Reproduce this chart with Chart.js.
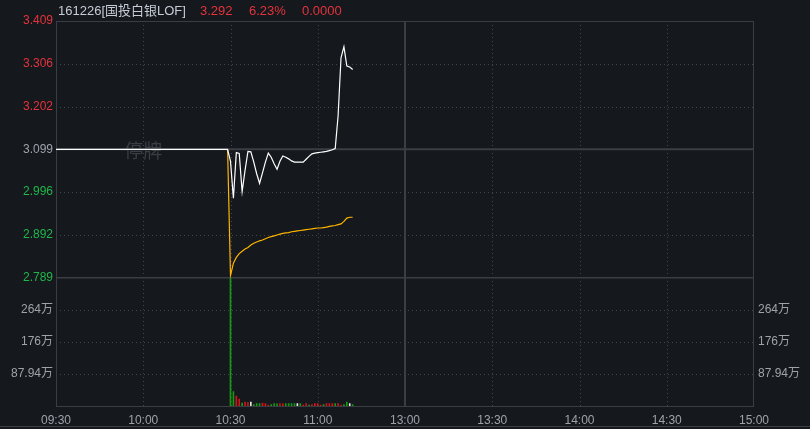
<!DOCTYPE html>
<html>
<head>
<meta charset="utf-8">
<script src="https://cdn.jsdelivr.net/npm/chart.js@4.4.1/dist/chart.umd.min.js"></script>
<style>
  html, body { margin: 0; padding: 0; background: #15181d; }
  canvas { display: block; }
</style>
</head>
<body>
<canvas id="chart" width="810" height="429"></canvas>
<script>
// axis ticks
const timeLabels = ["09:30", "10:00", "10:30", "11:00", "13:00", "13:30", "14:00", "14:30", "15:00"];
const priceTicks = [3.409, 3.306, 3.202, 3.099, 2.996, 2.892, 2.789];
const prevClose = 3.099;
const volTicks = [87.94, 175.88, 263.82];
const volTickLabels = ["87.94万", "176万", "264万"];
const volMax = 351.76;

// minute data (suspended until 10:30)
const times = [
  "09:30", "10:29",
  "10:30", "10:31", "10:32", "10:33", "10:34", "10:35", "10:36", "10:37", "10:38", "10:39",
  "10:40", "10:41", "10:42", "10:43", "10:44", "10:45", "10:46", "10:47", "10:48", "10:49",
  "10:50", "10:51", "10:52", "10:53", "10:54", "10:55", "10:56", "10:57", "10:58", "10:59",
  "11:00", "11:01", "11:02", "11:03", "11:04", "11:05", "11:06", "11:07", "11:08", "11:09",
  "11:10", "11:11", "11:12"
];
const prices = [
  3.099, 3.099,
  3.070, 2.981, 3.091, 3.089, 2.997, 3.048, 3.094, 3.093, 3.068, 3.040,
  3.017, 3.042, 3.068, 3.090, 3.080, 3.064, 3.051, 3.070, 3.083, 3.080,
  3.076, 3.071, 3.068, 3.068, 3.068, 3.068, 3.075, 3.082, 3.088, 3.090,
  3.091, 3.092, 3.093, 3.094, 3.096, 3.098, 3.101, 3.180, 3.320, 3.347,
  3.300, 3.298, 3.292
];
const avgPrices = [
  null, 3.099,
  2.794, 2.824, 2.838, 2.847, 2.853, 2.858, 2.862, 2.868, 2.872, 2.875,
  2.878, 2.880, 2.883, 2.886, 2.888, 2.890, 2.892, 2.894, 2.896, 2.897,
  2.898, 2.900, 2.901, 2.902, 2.903, 2.904, 2.905, 2.906, 2.907, 2.908,
  2.909, 2.909, 2.910, 2.911, 2.913, 2.914, 2.915, 2.917, 2.919, 2.925,
  2.933, 2.935, 2.935
];
// volume in 万, from 10:30
const volTimes = times.slice(2);
const volumes = [
  351.76, 39.4, 27.5, 19.2, 8.2, 11.0, 9.2, 11.0, 3.7, 6.4,
  6.4, 8.2, 6.4, 2.7, 3.7, 6.4, 6.2, 6.4, 6.1, 6.4,
  6.4, 6.3, 6.4, 6.4, 6.4, 2.7, 6.4, 2.7, 3.7, 6.4,
  6.4, 2.7, 3.7, 6.4, 6.4, 6.3, 6.4, 6.4, 2.7, 3.7,
  11.0, 6.4, 3.7
];
const volDirs = [
  "d", "d", "u", "u", "d", "u", "u", "f", "d", "d",
  "d", "u", "u", "u", "d", "d", "d", "u", "u", "d",
  "d", "d", "d", "f", "d", "u", "u", "d", "u", "u",
  "u", "u", "d", "u", "u", "u", "d", "u", "u", "d",
  "d", "f", "d"
];

const RED = "#e5333b";
const GREEN = "#1fb74a";
const GRAY = "#9ea3aa";
const dirColors = { u: "#d0161b", d: "#169a16", f: "#e6e6e6" };
const FONT = "'Liberation Sans', 'Noto Sans CJK SC', sans-serif";

function toMinute(t) {
  const [h, m] = t.split(":").map(Number);
  const v = h * 60 + m;
  return v <= 690 ? v - 570 : v - 780 + 120;
}
const tickMinutes = timeLabels.map(toMinute);

const panes = {
  id: "panes",
  beforeDraw(chart) {
    const { ctx } = chart;
    ctx.save();
    ctx.fillStyle = "#15181d";
    ctx.fillRect(0, 0, chart.width, chart.height);
    ctx.restore();
  },
  beforeDatasetsDraw(chart) {
    const { ctx, chartArea: a, scales } = chart;
    const { x, y, yv } = scales;
    ctx.save();
    ctx.lineWidth = 1;
    ctx.strokeStyle = "#40444b";
    ctx.setLineDash([1, 3]);
    tickMinutes.forEach((m, i) => {
      if (i === 0 || i === tickMinutes.length - 1 || m === 120) return;
      const px = Math.round(x.getPixelForValue(m)) + 0.5;
      ctx.beginPath(); ctx.moveTo(px, a.top); ctx.lineTo(px, a.bottom); ctx.stroke();
    });
    const hDots = priceTicks.filter((v, i) => i > 0 && i < priceTicks.length - 1 && v !== prevClose)
      .map(v => y.getPixelForValue(v))
      .concat(volTicks.map(v => yv.getPixelForValue(v)));
    hDots.forEach(py => {
      py = Math.round(py) + 0.5;
      ctx.beginPath(); ctx.moveTo(a.left, py); ctx.lineTo(a.right, py); ctx.stroke();
    });
    ctx.setLineDash([]);
    ctx.strokeStyle = "#3b3e44";
    ctx.lineWidth = 2;
    const noon = x.getPixelForValue(120);
    ctx.beginPath(); ctx.moveTo(noon, a.top); ctx.lineTo(noon, a.bottom); ctx.stroke();
    const pc = y.getPixelForValue(prevClose);
    ctx.beginPath(); ctx.moveTo(a.left, pc); ctx.lineTo(a.right, pc); ctx.stroke();
    ctx.lineWidth = 1.5;
    const sep = y.getPixelForValue(priceTicks[priceTicks.length - 1]);
    ctx.beginPath(); ctx.moveTo(a.left, sep); ctx.lineTo(a.right, sep); ctx.stroke();
    ctx.lineWidth = 1;
    ctx.strokeStyle = "#3a3d43";
    ctx.strokeRect(a.left + 0.5, a.top + 0.5, a.right - a.left - 1, a.bottom - a.top);
    ctx.beginPath(); ctx.moveTo(0, chart.height - 2.5); ctx.lineTo(chart.width, chart.height - 2.5); ctx.stroke();
    // suspended watermark
    ctx.fillStyle = "#3a3e44";
    ctx.font = "19px 'Noto Sans CJK SC', sans-serif";
    ctx.textAlign = "center";
    ctx.textBaseline = "middle";
    ctx.fillText("停牌", x.getPixelForValue(toMinute("10:00")), pc + 1);
    ctx.restore();
  },
  afterDraw(chart) {
    const { ctx, chartArea: a, scales: { yv } } = chart;
    ctx.save();
    ctx.textBaseline = "middle";
    ctx.font = "13px " + FONT;
    ctx.fillStyle = "#c6cdd7";
    ctx.fillText("161226[国投白银LOF]", 58, 11);
    ctx.fillStyle = RED;
    ctx.fillText("3.292", 200, 11);
    ctx.fillText("6.23%", 249, 11);
    ctx.fillText("0.0000", 302, 11);
    ctx.font = "12px " + FONT;
    ctx.fillStyle = GRAY;
    ctx.textAlign = "left";
    volTicks.forEach((v, i) => ctx.fillText(volTickLabels[i], a.right + 4, yv.getPixelForValue(v)));
    ctx.restore();
  }
};

new Chart(document.getElementById("chart"), {
  type: "line",
  data: {
    datasets: [
      {
        label: "价格",
        data: times.map((t, i) => ({ x: toMinute(t), y: prices[i] })),
        yAxisID: "y",
        borderColor: "#ffffff",
        borderWidth: 1.2,
        pointRadius: 0,
        order: 1
      },
      {
        label: "均价",
        data: times.map((t, i) => ({ x: toMinute(t), y: avgPrices[i] })),
        yAxisID: "y",
        borderColor: "#ffb400",
        borderWidth: 1.2,
        pointRadius: 0,
        order: 2
      },
      {
        type: "bar",
        label: "成交量",
        data: volTimes.map((t, i) => ({ x: toMinute(t), y: volumes[i] })),
        yAxisID: "yv",
        backgroundColor: volDirs.map(d => dirColors[d]),
        barThickness: 1,
        order: 3
      }
    ]
  },
  options: {
    responsive: false,
    animation: false,
    devicePixelRatio: 1,
    layout: { padding: { top: 21, right: 56, left: 0, bottom: 0 } },
    plugins: { legend: { display: false }, tooltip: { enabled: false } },
    scales: {
      x: {
        type: "linear",
        offset: false,
        min: 0,
        max: 240,
        grid: { display: false, drawTicks: false, offset: false },
        border: { display: false },
        afterBuildTicks: (s) => { s.ticks = tickMinutes.map(v => ({ value: v })); },
        afterFit: (s) => { s.height = 23; },
        ticks: {
          autoSkip: false,
          maxRotation: 0,
          padding: 7,
          color: GRAY,
          font: { family: FONT, size: 12 },
          callback: (v) => timeLabels[tickMinutes.indexOf(v)]
        }
      },
      // the volume pane is listed first: stacked left boxes are placed bottom-up
      yv: {
        position: "left",
        stack: "pane",
        stackWeight: 1,
        min: 0,
        max: volMax,
        grid: { display: false, drawTicks: false },
        border: { display: false },
        afterBuildTicks: (s) => { s.ticks = volTicks.map(v => ({ value: v })); },
        afterFit: (s) => { s.width = 56; },
        ticks: {
          autoSkip: false,
          padding: 3,
          color: GRAY,
          font: { family: FONT, size: 12 },
          callback: (v) => volTickLabels[volTicks.indexOf(v)]
        }
      },
      y: {
        position: "left",
        stack: "pane",
        stackWeight: 2,
        min: priceTicks[priceTicks.length - 1],
        max: priceTicks[0],
        grid: { display: false, drawTicks: false },
        border: { display: false },
        afterBuildTicks: (s) => { s.ticks = priceTicks.map(v => ({ value: v })); },
        afterFit: (s) => { s.width = 56; },
        ticks: {
          autoSkip: false,
          padding: 3,
          font: { family: FONT, size: 12 },
          color: (c) => c.tick.value > prevClose ? RED : (c.tick.value < prevClose ? GREEN : GRAY),
          callback: (v) => v.toFixed(3)
        }
      }
    }
  },
  plugins: [panes]
});
</script>
</body>
</html>
